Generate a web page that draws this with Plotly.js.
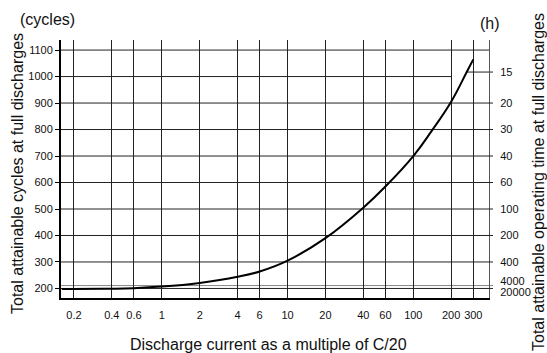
<!DOCTYPE html>
<html>
<head>
<meta charset="utf-8">
<script src="https://cdn.plot.ly/plotly-3.0.1.min.js"></script>
<style>
  html, body { margin: 0; padding: 0; background: #fff; }
  #chart { width: 547px; height: 353px; }
</style>
</head>
<body>
<div id="chart"></div>
<script>
// Discharge current (multiples of C/20) and total attainable cycles
const currentMultiple = [0.16, 0.2, 0.4, 0.6, 1, 2, 4, 6, 10, 20, 40, 60, 100, 140, 200, 266, 300];
const attainableCycles = [198, 198, 199, 201, 207, 221, 244, 264, 305, 390, 505, 585, 700, 795, 905, 1017, 1065];

// Bottom axis ticks
const xTickValues = [0.2, 0.4, 0.6, 1, 2, 4, 6, 10, 20, 40, 60, 100, 200, 300];
const xTickLabels = ['0.2', '0.4', '0.6', '1', '2', '4', '6', '10', '20', '40', '60', '100', '200', '300'];

// Left axis ticks (cycles)
const cycleTicks = [200, 300, 400, 500, 600, 700, 800, 900, 1000, 1100];

// Right axis: operating time in hours, at the matching cycle level
const hourTickCycles = [1017, 900, 800, 700, 600, 500, 400, 300, 211, 200];
const hourTickLabels = ['15', '20', '30', '40', '60', '100', '200', '400', '4000', '20000'];

const FONT = '"Liberation Sans Narrow", "Liberation Sans", Arial, sans-serif';
const TITLE_FONT = '"Liberation Sans", Arial, sans-serif';
const xLogRange = [-0.802, 2.602];
const yRange = [164, 1138];
const gridColor = '#222';
const tickOut = 4 / 428; // hour lines poke out past the right edge

// Horizontal cycle grid lines; the 1000 line ends at the 200 vertical
const shapes = cycleTicks.map(v => (v === 1000
  ? { type: 'line', xref: 'x', yref: 'y', x0: Math.pow(10, xLogRange[0]), x1: 200, y0: v, y1: v,
      line: { color: gridColor, width: 1 }, layer: 'below' }
  : { type: 'line', xref: 'paper', yref: 'y', x0: 0, x1: 1, y0: v, y1: v,
      line: { color: gridColor, width: 1 }, layer: 'below' }));

// Hour lines
hourTickCycles.forEach((v, i) => {
  if (i === 0) {
    // the shortest operating time line starts where the curve reaches it
    const k = attainableCycles.indexOf(v);
    const xStart = (Math.log10(currentMultiple[k]) - xLogRange[0]) / (xLogRange[1] - xLogRange[0]);
    shapes.push({ type: 'line', xref: 'paper', yref: 'y', x0: xStart, x1: 1 + tickOut,
      y0: v, y1: v, line: { color: gridColor, width: 1 }, layer: 'below' });
  } else if (cycleTicks.includes(v)) {
    shapes.push({ type: 'line', xref: 'paper', yref: 'y', x0: 1, x1: 1 + tickOut,
      y0: v, y1: v, line: { color: gridColor, width: 1 } });
  } else {
    shapes.push({ type: 'line', xref: 'paper', yref: 'y', x0: 0, x1: 1 + tickOut, y0: v, y1: v,
      line: { color: '#888', width: 1 }, layer: 'below' });
  }
});

// The two closely spaced bottom labels are spread apart so both stay readable
const nH = hourTickCycles.length;
const hourLabelPos = hourTickCycles.map((v, i) =>
  i === nH - 2 ? v + 17 : (i === nH - 1 ? v - 15 : v));

const traces = [
  {
    x: currentMultiple,
    y: attainableCycles,
    type: 'scatter',
    mode: 'lines',
    line: { color: '#000', width: 2, shape: 'spline', smoothing: 1.2 },
    hoverinfo: 'skip',
    showlegend: false
  },
  {
    // carries the right-hand axis
    x: [currentMultiple[0]],
    y: [attainableCycles[0]],
    yaxis: 'y2',
    type: 'scatter',
    mode: 'markers',
    marker: { opacity: 0 },
    hoverinfo: 'skip',
    showlegend: false
  }
];

const layout = {
  width: 547,
  height: 353,
  margin: { l: 61, r: 58, t: 40, b: 55 },
  paper_bgcolor: '#fff',
  plot_bgcolor: '#fff',
  font: { family: FONT, size: 11, color: '#111' },
  xaxis: {
    type: 'log',
    range: xLogRange,
    tickmode: 'array',
    tickvals: xTickValues,
    ticktext: xTickLabels,
    ticks: '',
    ticklabelstandoff: 6,
    showgrid: true,
    gridcolor: gridColor,
    gridwidth: 1,
    showline: true,
    linecolor: '#000',
    linewidth: 2,
    zeroline: false,
    tickfont: { family: FONT, size: 11, color: '#111' }
  },
  yaxis: {
    range: yRange,
    tickmode: 'array',
    tickvals: cycleTicks,
    ticks: 'outside',
    ticklen: 4,
    tickcolor: '#000',
    showgrid: false,
    showline: true,
    linecolor: '#000',
    linewidth: 2,
    zeroline: false,
    tickfont: { family: FONT, size: 11, color: '#111' }
  },
  yaxis2: {
    overlaying: 'y',
    side: 'right',
    range: yRange,
    tickmode: 'array',
    tickvals: hourLabelPos,
    ticktext: hourTickLabels,
    ticks: '',
    ticklabelstandoff: 8,
    showgrid: false,
    showline: true,
    linecolor: '#555',
    linewidth: 1,
    zeroline: false,
    tickfont: { family: FONT, size: 11, color: '#111' }
  },
  shapes: shapes,
  annotations: [
    { text: '(cycles)', xref: 'paper', yref: 'paper', x: -0.1005, y: (298 - 19.5) / 258,
      xanchor: 'left', yanchor: 'middle', showarrow: false, font: { family: TITLE_FONT, size: 16, color: '#111' } },
    { text: '(h)', xref: 'paper', yref: 'paper', x: (490 - 61) / 428, y: (298 - 24) / 258,
      xanchor: 'center', yanchor: 'middle', showarrow: false, font: { family: TITLE_FONT, size: 16, color: '#111' } },
    { text: 'Total attainable cycles at full discharges', xref: 'paper', yref: 'paper',
      x: (17 - 61) / 428, y: (298 - 174) / 258, textangle: -90,
      xanchor: 'center', yanchor: 'middle', showarrow: false, font: { family: TITLE_FONT, size: 16, color: '#111' } },
    { text: 'Total attainable operating time at full discharges', xref: 'paper', yref: 'paper',
      x: (538 - 61) / 428, y: (298 - 182) / 258, textangle: -90,
      xanchor: 'center', yanchor: 'middle', showarrow: false, font: { family: TITLE_FONT, size: 16, color: '#111' } },
    { text: 'Discharge current as a multiple of C/20', xref: 'paper', yref: 'paper',
      x: (268 - 61) / 428, y: (298 - 345) / 258,
      xanchor: 'center', yanchor: 'middle', showarrow: false, font: { family: TITLE_FONT, size: 16, color: '#111' } }
  ]
};

Plotly.newPlot('chart', traces, layout, { staticPlot: true, displayModeBar: false });
</script>
</body>
</html>
